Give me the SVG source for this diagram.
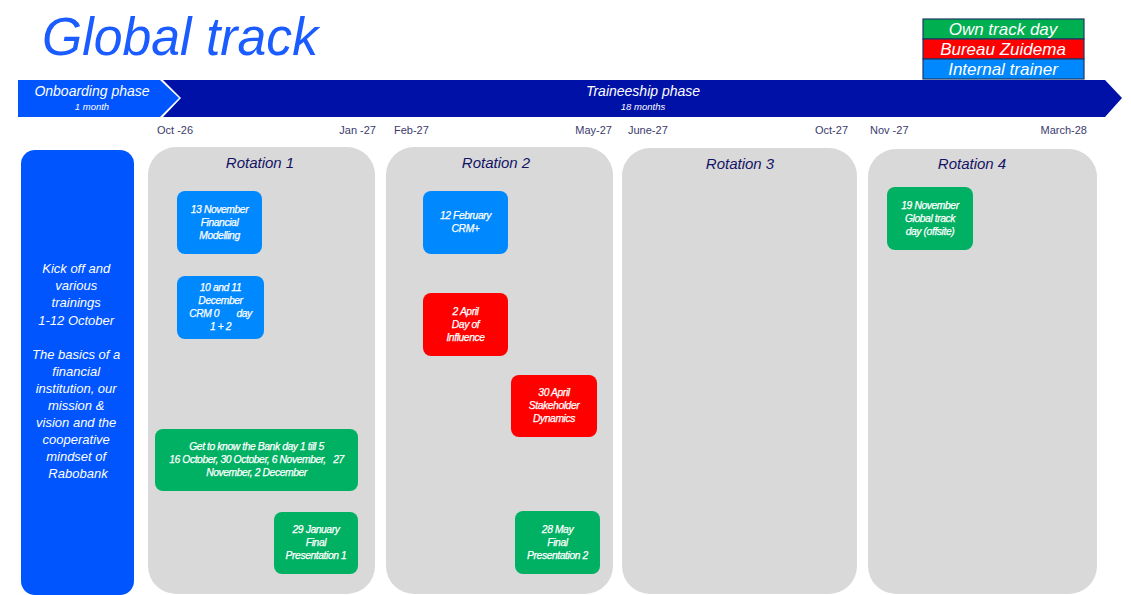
<svg xmlns="http://www.w3.org/2000/svg" width="1131" height="595" viewBox="0 0 1131 595">
<style>
.it{font-family:"Liberation Sans",Arial,sans-serif;font-style:italic;}
.w{fill:#ffffff;}
.ev{font-family:"Liberation Sans",Arial,sans-serif;font-style:italic;font-size:10.3px;fill:#ffffff;stroke:#ffffff;stroke-width:0.25px;text-anchor:middle;letter-spacing:-0.4px;}
.date{font-family:"Liberation Sans",Arial,sans-serif;font-size:11px;fill:#3b3b6e;}
.rot{font-family:"Liberation Sans",Arial,sans-serif;font-style:italic;font-size:15px;fill:#141464;text-anchor:middle;}
.panel{fill:#d9d9d9;}
.blue{fill:#0088ff;}
.green{fill:#00b063;}
.red{fill:#ff0000;}
.leg{font-family:"Liberation Sans",Arial,sans-serif;font-style:italic;font-size:17px;fill:#ffffff;text-anchor:middle;}
</style>
<rect width="1131" height="595" fill="#ffffff"/>

<g id="title">
<text x="42" y="55" class="it" font-size="54" fill="#1a5cff" textLength="276" lengthAdjust="spacingAndGlyphs">Global track</text>
</g>

<g id="legend">
<rect x="923" y="19" width="161" height="20" fill="#00b050" stroke="#1f3864" stroke-width="1.2"/>
<rect x="923" y="39" width="161" height="20" fill="#ff0000" stroke="#1f3864" stroke-width="1.2"/>
<rect x="923" y="59" width="161" height="20" fill="#0088ff" stroke="#1f3864" stroke-width="1.2"/>
<text x="1003" y="35" class="leg">Own track day</text>
<text x="1003" y="55" class="leg">Bureau Zuidema</text>
<text x="1003" y="75" class="leg">Internal trainer</text>
</g>

<g id="phase-traineeship">
<polygon points="163,80 1105,80 1122,98 1105,117 163,117 181,98" fill="#0011a8"/>
<text x="643" y="96" class="it w" font-size="14" text-anchor="middle">Traineeship phase</text>
<text x="643" y="110" class="it w" font-size="9.5" text-anchor="middle">18 months</text>
</g>
<g id="phase-onboarding">
<polygon points="18,80 160,80 179,98 160,117 18,117" fill="#0055ff"/>
<text x="92" y="96" class="it w" font-size="14" text-anchor="middle">Onboarding phase</text>
<text x="92" y="110" class="it w" font-size="9.5" text-anchor="middle">1 month</text>
</g>

<g id="dates">
<text x="157" y="134" class="date">Oct -26</text>
<text x="376" y="134" class="date" text-anchor="end">Jan -27</text>
<text x="394" y="134" class="date">Feb-27</text>
<text x="612" y="134" class="date" text-anchor="end">May-27</text>
<text x="628" y="134" class="date">June-27</text>
<text x="848" y="134" class="date" text-anchor="end">Oct-27</text>
<text x="870" y="134" class="date">Nov -27</text>
<text x="1087" y="134" class="date" text-anchor="end">March-28</text>
</g>

<g id="onboarding-box">
<rect x="21" y="150" width="113" height="445" rx="14" fill="#0055ff"/>
<text class="it w" font-size="13" text-anchor="middle">
<tspan x="78" y="273">Kick off and</tspan>
<tspan x="78" y="290">various</tspan>
<tspan x="78" y="307">trainings</tspan>
<tspan x="78" y="325">1-12 October</tspan>
<tspan x="78" y="359">The basics of a</tspan>
<tspan x="78" y="376">financial</tspan>
<tspan x="78" y="393">institution, our</tspan>
<tspan x="78" y="410">mission &amp;</tspan>
<tspan x="78" y="427">vision and the</tspan>
<tspan x="78" y="444">cooperative</tspan>
<tspan x="78" y="461">mindset of</tspan>
<tspan x="78" y="478">Rabobank</tspan>
</text>
</g>

<g id="rotation-1">
<rect x="148" y="147" width="227" height="447" rx="28" class="panel"/>
<text x="260" y="168" class="rot">Rotation 1</text>
</g>
<g id="rotation-2">
<rect x="386" y="147" width="227" height="447" rx="28" class="panel"/>
<text x="496" y="168" class="rot">Rotation 2</text>
</g>
<g id="rotation-3">
<rect x="622" y="148" width="235" height="446" rx="28" class="panel"/>
<text x="740" y="169" class="rot">Rotation 3</text>
</g>
<g id="rotation-4">
<rect x="868" y="149" width="229" height="445" rx="28" class="panel"/>
<text x="972" y="169" class="rot">Rotation 4</text>
</g>

<g id="ev-financial-modelling">
<rect x="177" y="191" width="85" height="63" rx="8" class="blue"/>
<text class="ev"><tspan x="219.5" y="213">13 November</tspan><tspan x="219.5" y="226">Financial</tspan><tspan x="219.5" y="239">Modelling</tspan></text>
</g>
<g id="ev-crm0">
<rect x="177" y="276" width="87" height="63" rx="8" class="blue"/>
<text class="ev"><tspan x="220.5" y="291">10 and 11</tspan><tspan x="220.5" y="304">December</tspan><tspan x="220.5" y="317" xml:space="preserve">CRM 0       day</tspan><tspan x="220.5" y="330">1 + 2</tspan></text>
</g>
<g id="ev-get-to-know">
<rect x="155" y="429" width="203" height="62" rx="8" class="green"/>
<text class="ev"><tspan x="256.5" y="450">Get to know the Bank day 1 till 5</tspan><tspan x="256.5" y="463" xml:space="preserve">16 October, 30 October, 6 November,   27</tspan><tspan x="256.5" y="476">November, 2 December</tspan></text>
</g>
<g id="ev-final-1">
<rect x="274" y="512" width="84" height="62" rx="8" class="green"/>
<text class="ev"><tspan x="316" y="533">29 January</tspan><tspan x="316" y="546">Final</tspan><tspan x="316" y="559">Presentation 1</tspan></text>
</g>
<g id="ev-crm-plus">
<rect x="423" y="191" width="85" height="63" rx="8" class="blue"/>
<text class="ev"><tspan x="465.5" y="219">12 February</tspan><tspan x="465.5" y="232">CRM+</tspan></text>
</g>
<g id="ev-day-of-influence">
<rect x="423" y="293" width="85" height="63" rx="8" class="red"/>
<text class="ev"><tspan x="465.5" y="315">2 April</tspan><tspan x="465.5" y="328">Day of</tspan><tspan x="465.5" y="341">Influence</tspan></text>
</g>
<g id="ev-stakeholder">
<rect x="511" y="375" width="86" height="62" rx="8" class="red"/>
<text class="ev"><tspan x="554" y="396">30 April</tspan><tspan x="554" y="409">Stakeholder</tspan><tspan x="554" y="422">Dynamics</tspan></text>
</g>
<g id="ev-final-2">
<rect x="515" y="511" width="85" height="63" rx="8" class="green"/>
<text class="ev"><tspan x="557.5" y="533">28 May</tspan><tspan x="557.5" y="546">Final</tspan><tspan x="557.5" y="559">Presentation 2</tspan></text>
</g>
<g id="ev-global-track-day">
<rect x="887" y="187" width="86" height="63" rx="8" class="green"/>
<text class="ev"><tspan x="930" y="209">19 November</tspan><tspan x="930" y="222">Global track</tspan><tspan x="930" y="235">day (offsite)</tspan></text>
</g>
</svg>
